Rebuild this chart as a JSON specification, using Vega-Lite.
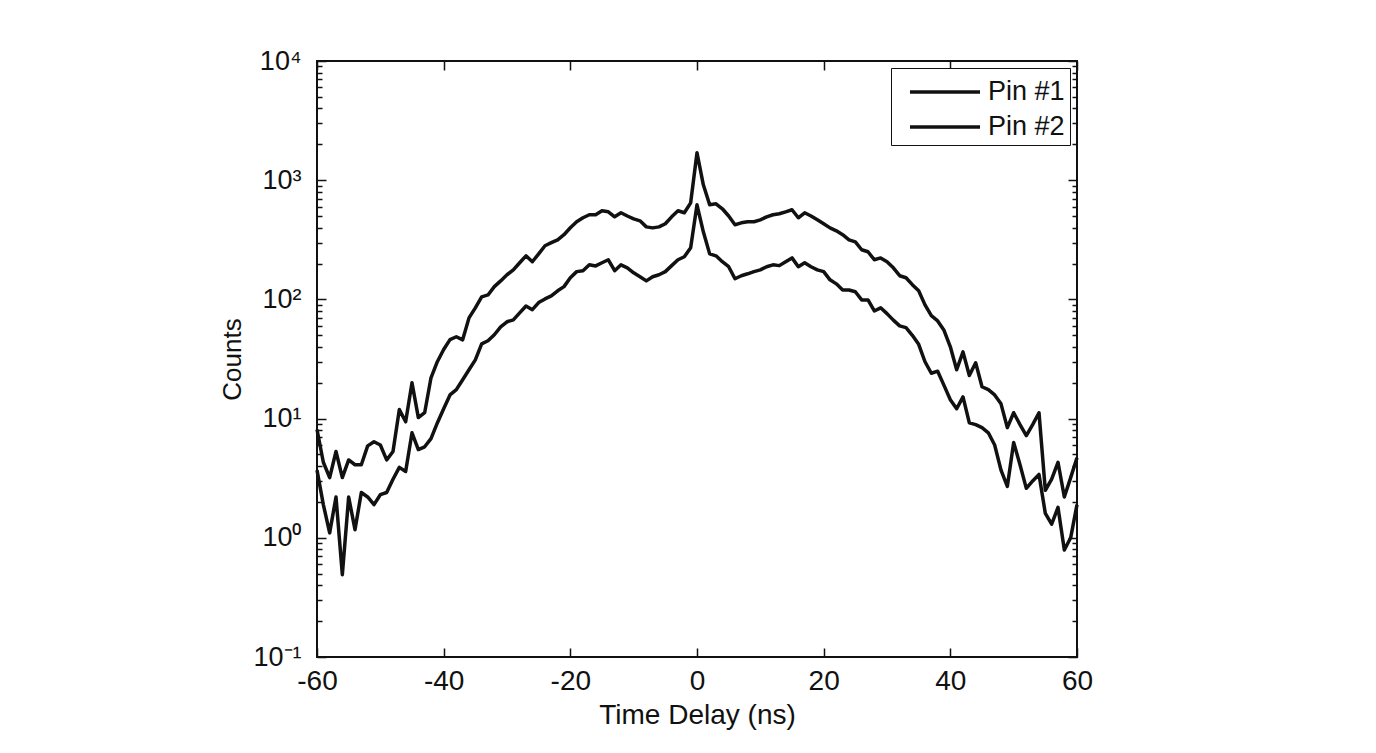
{
  "$schema": "https://vega.github.io/schema/vega-lite/v6.json",
  "width": 760,
  "height": 596,
  "autosize": "none",
  "padding": {"left": 317, "top": 61, "right": 299, "bottom": 96},
  "background": "white",
  "config": {
    "font": "Liberation Sans",
    "view": {"stroke": "#111", "strokeWidth": 2},
    "axis": {"labelFont": "Liberation Sans", "titleFont": "Liberation Sans", "labelColor": "#111", "titleColor": "#111", "tickColor": "#111", "grid": false, "domain": false, "titleFontWeight": "normal", "labelFontWeight": "normal", "labelOverlap": false, "labelFlush": false}
  },
  "data": {
    "values": [
      {"t": -60, "Pin #1": 8.1, "Pin #2": 3.7},
      {"t": -59, "Pin #1": 4.3, "Pin #2": 1.9},
      {"t": -58, "Pin #1": 3.2, "Pin #2": 1.1},
      {"t": -57, "Pin #1": 5.3, "Pin #2": 2.2},
      {"t": -56, "Pin #1": 3.2, "Pin #2": 0.49},
      {"t": -55, "Pin #1": 4.5, "Pin #2": 2.2},
      {"t": -54, "Pin #1": 4.1, "Pin #2": 1.17},
      {"t": -53, "Pin #1": 4.1, "Pin #2": 2.4},
      {"t": -52, "Pin #1": 5.9, "Pin #2": 2.2},
      {"t": -51, "Pin #1": 6.4, "Pin #2": 1.9},
      {"t": -50, "Pin #1": 6.0, "Pin #2": 2.3},
      {"t": -49, "Pin #1": 4.5, "Pin #2": 2.4},
      {"t": -48, "Pin #1": 5.3, "Pin #2": 3.1},
      {"t": -47, "Pin #1": 11.9, "Pin #2": 3.9},
      {"t": -46, "Pin #1": 9.4, "Pin #2": 3.6},
      {"t": -45, "Pin #1": 20, "Pin #2": 7.6},
      {"t": -44, "Pin #1": 10.2, "Pin #2": 5.5},
      {"t": -43, "Pin #1": 11.2, "Pin #2": 5.8},
      {"t": -42, "Pin #1": 22, "Pin #2": 6.8},
      {"t": -41, "Pin #1": 30, "Pin #2": 9.2},
      {"t": -40, "Pin #1": 38, "Pin #2": 12.1},
      {"t": -39, "Pin #1": 46, "Pin #2": 15.8},
      {"t": -38, "Pin #1": 48.6, "Pin #2": 17.5},
      {"t": -37, "Pin #1": 45.8, "Pin #2": 21.2},
      {"t": -36, "Pin #1": 70, "Pin #2": 25.7},
      {"t": -35, "Pin #1": 85, "Pin #2": 31.1},
      {"t": -34, "Pin #1": 105, "Pin #2": 42.4},
      {"t": -33, "Pin #1": 109, "Pin #2": 45},
      {"t": -32, "Pin #1": 128, "Pin #2": 50.5},
      {"t": -31, "Pin #1": 143, "Pin #2": 58.9},
      {"t": -30, "Pin #1": 161, "Pin #2": 64.9},
      {"t": -29, "Pin #1": 177, "Pin #2": 67.4},
      {"t": -28, "Pin #1": 203, "Pin #2": 77},
      {"t": -27, "Pin #1": 232, "Pin #2": 88},
      {"t": -26, "Pin #1": 207, "Pin #2": 82},
      {"t": -25, "Pin #1": 241, "Pin #2": 94},
      {"t": -24, "Pin #1": 282, "Pin #2": 101},
      {"t": -23, "Pin #1": 299, "Pin #2": 107},
      {"t": -22, "Pin #1": 316, "Pin #2": 118},
      {"t": -21, "Pin #1": 349, "Pin #2": 128},
      {"t": -20, "Pin #1": 399, "Pin #2": 152},
      {"t": -19, "Pin #1": 448, "Pin #2": 171},
      {"t": -18, "Pin #1": 484, "Pin #2": 174},
      {"t": -17, "Pin #1": 513, "Pin #2": 195},
      {"t": -16, "Pin #1": 513, "Pin #2": 191},
      {"t": -15, "Pin #1": 554, "Pin #2": 203},
      {"t": -14, "Pin #1": 543, "Pin #2": 215},
      {"t": -13, "Pin #1": 493, "Pin #2": 174},
      {"t": -12, "Pin #1": 533, "Pin #2": 195},
      {"t": -11, "Pin #1": 501, "Pin #2": 184},
      {"t": -10, "Pin #1": 474, "Pin #2": 167},
      {"t": -9, "Pin #1": 456, "Pin #2": 155},
      {"t": -8, "Pin #1": 406, "Pin #2": 143},
      {"t": -7, "Pin #1": 398, "Pin #2": 155},
      {"t": -6, "Pin #1": 406, "Pin #2": 161},
      {"t": -5, "Pin #1": 431, "Pin #2": 171},
      {"t": -4, "Pin #1": 493, "Pin #2": 192},
      {"t": -3, "Pin #1": 554, "Pin #2": 215},
      {"t": -2, "Pin #1": 533, "Pin #2": 228},
      {"t": -1, "Pin #1": 646, "Pin #2": 271},
      {"t": 0, "Pin #1": 1700, "Pin #2": 622},
      {"t": 1, "Pin #1": 915, "Pin #2": 369},
      {"t": 2, "Pin #1": 622, "Pin #2": 241},
      {"t": 3, "Pin #1": 634, "Pin #2": 232},
      {"t": 4, "Pin #1": 576, "Pin #2": 207},
      {"t": 5, "Pin #1": 501, "Pin #2": 188},
      {"t": 6, "Pin #1": 423, "Pin #2": 149},
      {"t": 7, "Pin #1": 439, "Pin #2": 158},
      {"t": 8, "Pin #1": 448, "Pin #2": 164},
      {"t": 9, "Pin #1": 448, "Pin #2": 171},
      {"t": 10, "Pin #1": 465, "Pin #2": 177},
      {"t": 11, "Pin #1": 493, "Pin #2": 188},
      {"t": 12, "Pin #1": 513, "Pin #2": 195},
      {"t": 13, "Pin #1": 523, "Pin #2": 192},
      {"t": 14, "Pin #1": 543, "Pin #2": 207},
      {"t": 15, "Pin #1": 565, "Pin #2": 223},
      {"t": 16, "Pin #1": 484, "Pin #2": 188},
      {"t": 17, "Pin #1": 533, "Pin #2": 203},
      {"t": 18, "Pin #1": 501, "Pin #2": 188},
      {"t": 19, "Pin #1": 465, "Pin #2": 177},
      {"t": 20, "Pin #1": 431, "Pin #2": 171},
      {"t": 21, "Pin #1": 398, "Pin #2": 146},
      {"t": 22, "Pin #1": 376, "Pin #2": 135},
      {"t": 23, "Pin #1": 349, "Pin #2": 120},
      {"t": 24, "Pin #1": 316, "Pin #2": 120},
      {"t": 25, "Pin #1": 304, "Pin #2": 116},
      {"t": 26, "Pin #1": 261, "Pin #2": 99},
      {"t": 27, "Pin #1": 251, "Pin #2": 99},
      {"t": 28, "Pin #1": 215, "Pin #2": 80},
      {"t": 29, "Pin #1": 223, "Pin #2": 85},
      {"t": 30, "Pin #1": 207, "Pin #2": 76},
      {"t": 31, "Pin #1": 184, "Pin #2": 67},
      {"t": 32, "Pin #1": 158, "Pin #2": 60},
      {"t": 33, "Pin #1": 152, "Pin #2": 58},
      {"t": 34, "Pin #1": 133, "Pin #2": 50},
      {"t": 35, "Pin #1": 118, "Pin #2": 42},
      {"t": 36, "Pin #1": 90, "Pin #2": 30},
      {"t": 37, "Pin #1": 73, "Pin #2": 24},
      {"t": 38, "Pin #1": 66, "Pin #2": 25},
      {"t": 39, "Pin #1": 55, "Pin #2": 19},
      {"t": 40, "Pin #1": 40, "Pin #2": 14.4},
      {"t": 41, "Pin #1": 25.7, "Pin #2": 12.1},
      {"t": 42, "Pin #1": 36.3, "Pin #2": 15.2},
      {"t": 43, "Pin #1": 23, "Pin #2": 9.2},
      {"t": 44, "Pin #1": 29.4, "Pin #2": 8.9},
      {"t": 45, "Pin #1": 18.5, "Pin #2": 8.4},
      {"t": 46, "Pin #1": 17.5, "Pin #2": 7.6},
      {"t": 47, "Pin #1": 15.8, "Pin #2": 6.0},
      {"t": 48, "Pin #1": 13.3, "Pin #2": 3.7},
      {"t": 49, "Pin #1": 8.4, "Pin #2": 2.7},
      {"t": 50, "Pin #1": 11.2, "Pin #2": 6.3},
      {"t": 51, "Pin #1": 8.9, "Pin #2": 4.1},
      {"t": 52, "Pin #1": 7.2, "Pin #2": 2.6},
      {"t": 53, "Pin #1": 8.9, "Pin #2": 3.0},
      {"t": 54, "Pin #1": 11.2, "Pin #2": 3.4},
      {"t": 55, "Pin #1": 2.5, "Pin #2": 1.6},
      {"t": 56, "Pin #1": 3.1, "Pin #2": 1.3},
      {"t": 57, "Pin #1": 4.3, "Pin #2": 1.8},
      {"t": 58, "Pin #1": 2.2, "Pin #2": 0.79},
      {"t": 59, "Pin #1": 3.2, "Pin #2": 1.0},
      {"t": 60, "Pin #1": 4.7, "Pin #2": 1.9}
    ]
  },
  "transform": [{"fold": ["Pin #1", "Pin #2"], "as": ["series", "counts"]}],
  "layer": [
    {
      "mark": {"type": "line", "strokeWidth": 3.5, "strokeJoin": "round"},
      "encoding": {
        "x": {
          "field": "t", "type": "quantitative",
          "scale": {"domain": [-60, 60], "nice": false, "zero": false},
          "axis": {"orient": "bottom", "values": [-60, -40, -20, 0, 20, 40, 60], "labelExpr": "'' + datum.value", "tickSize": -9, "tickWidth": 1.5, "labelFontSize": 28, "labelPadding": 19, "title": "Time Delay (ns)", "titleFontSize": 28, "titlePadding": 6}
        },
        "y": {
          "field": "counts", "type": "quantitative",
          "scale": {"type": "log", "domain": [0.1, 10000], "nice": false},
          "axis": {
            "orient": "left",
            "values": [0.1, 0.2, 0.3, 0.4, 0.5, 0.6, 0.7, 0.8, 0.9, 1, 2, 3, 4, 5, 6, 7, 8, 9, 10, 20, 30, 40, 50, 60, 70, 80, 90, 100, 200, 300, 400, 500, 600, 700, 800, 900, 1000, 2000, 3000, 4000, 5000, 6000, 7000, 8000, 9000, 10000],
            "tickSize": {"condition": {"test": "indexof([0.1, 1, 10, 100, 1000, 10000], datum.value) >= 0", "value": -9}, "value": -5},
            "tickWidth": 1.5,
            "labelExpr": "datum.value == 10000 ? '10⁴' : datum.value == 1000 ? '10³' : datum.value == 100 ? '10²' : datum.value == 10 ? '10¹' : datum.value == 1 ? '10⁰' : datum.value == 0.1 ? '10⁻¹' : ''",
            "labelFontSize": 27, "labelPadding": 25,
            "title": "Counts", "titleFontSize": 26, "titlePadding": 7
          }
        },
        "color": {
          "field": "series", "type": "nominal",
          "scale": {"range": ["#111111", "#111111"]},
          "legend": {
            "orient": "top-right", "offset": 7, "title": null,
            "strokeColor": "#111", "fillColor": "white", "padding": 5,
            "symbolType": "M-2.06,0L2.06,0", "symbolSize": 1156, "symbolStrokeWidth": 3.5, "symbolOffset": 30,
            "labelOffset": 24, "labelFontSize": 27, "labelFontWeight": "normal", "labelFont": "Liberation Sans", "labelColor": "#111", "rowPadding": 3,
            "labelExpr": "datum.label + '\u00a0\u00a0'"
          }
        }
      }
    },
    {
      "mark": {"type": "point", "opacity": 0},
      "encoding": {
        "x": {"field": "t", "type": "quantitative", "axis": {"orient": "top", "values": [-60, -40, -20, 0, 20, 40, 60], "tickSize": -9, "tickWidth": 1.5, "labels": false, "title": null}},
        "y": {
          "field": "counts", "type": "quantitative",
          "axis": {
            "orient": "right",
            "values": [0.1, 0.2, 0.3, 0.4, 0.5, 0.6, 0.7, 0.8, 0.9, 1, 2, 3, 4, 5, 6, 7, 8, 9, 10, 20, 30, 40, 50, 60, 70, 80, 90, 100, 200, 300, 400, 500, 600, 700, 800, 900, 1000, 2000, 3000, 4000, 5000, 6000, 7000, 8000, 9000, 10000],
            "tickSize": {"condition": {"test": "indexof([0.1, 1, 10, 100, 1000, 10000], datum.value) >= 0", "value": -9}, "value": -5},
            "tickWidth": 1.5, "labels": false, "title": null
          }
        }
      }
    }
  ],
  "resolve": {"axis": {"x": "independent", "y": "independent"}}
}
